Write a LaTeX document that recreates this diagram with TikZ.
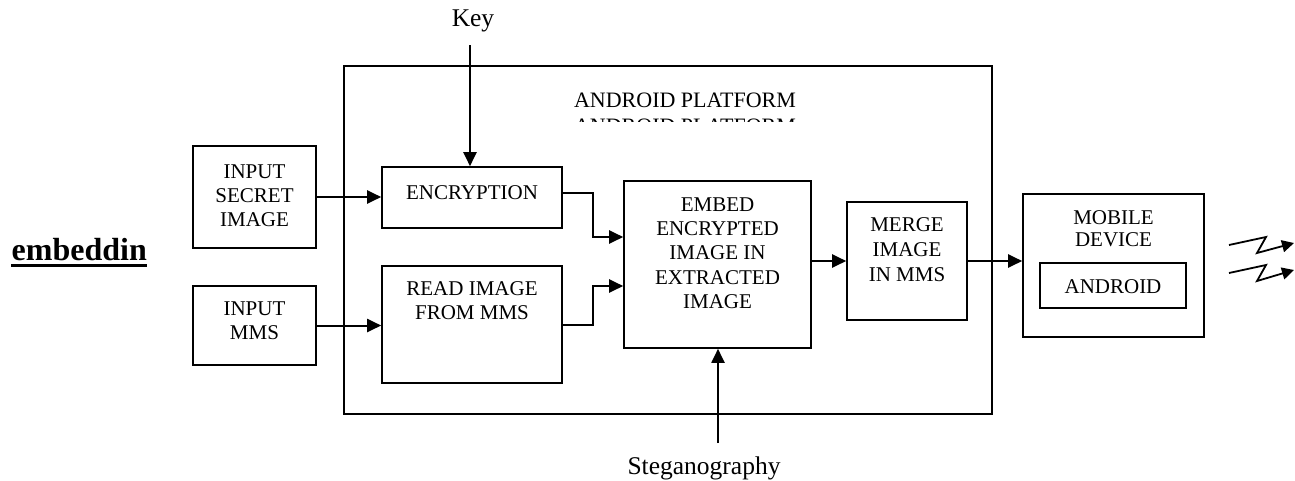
\documentclass[tikz,border=0pt]{standalone}
\usepackage{fontspec}
\setmainfont{Liberation Serif}
\usetikzlibrary{arrows.meta,calc}
\tikzset{
  box/.style={draw, line width=1.6pt, inner sep=0pt},
  lbl/.style={font=\fontsize{21}{24}\selectfont, align=center, inner sep=0pt, anchor=north},
  biglbl/.style={font=\fontsize{25.5}{30}\selectfont, inner sep=0pt},
  arr/.style={line width=2pt, -{Triangle[length=14pt,width=13pt]}},
  zig/.style={line width=1.8pt, -{Triangle[length=12pt,width=12pt]}},
}
\newcommand{\mybox}[5]{% name x1 y1 x2 y2
  \node[box, minimum width={(#4-#2)*1pt}, minimum height={(#5-#3)*1pt}] (#1) at ({(#2+#4)/2},{(#3+#5)/2}) {};}
\begin{document}
\begin{tikzpicture}[x=1pt,y=-1pt]
\useasboundingbox (0,0) rectangle (1295,480);
% boxes
\mybox{outer}{344}{66}{992}{414}
\mybox{secret}{193}{146}{316}{248}
\mybox{inmms}{193}{286}{316}{365}
\mybox{enc}{382}{167}{562}{228}
\mybox{read}{382}{266}{562}{383}
\mybox{embed}{624}{181}{811}{348}
\mybox{merge}{847}{202}{967}{320}
\mybox{mobile}{1023}{194}{1204}{337}
\mybox{android}{1040}{263}{1186}{308}
% labels
\node[lbl, font=\fontsize{22}{24}\selectfont] (plat) at (685,93) {ANDROID PLATFORM};
\begin{scope}
  \clip (540,110) rectangle (830,121.8);
  \node[lbl, font=\fontsize{22}{24}\selectfont] (plat2) at (685,118.3) {ANDROID PLATFORM};
\end{scope}
\node[lbl] (secretT) at ([yshift=-19pt]secret.north) {INPUT\\SECRET\\IMAGE};
\node[lbl] (inmmsT) at ([yshift=-16pt]inmms.north) {INPUT\\MMS};
\node[lbl] (encT) at ([yshift=-19pt]enc.north) {ENCRYPTION};
\node[lbl] (readT) at ([yshift=-16pt]read.north) {READ IMAGE\\FROM MMS};
\node[lbl, font=\fontsize{21}{24.3}\selectfont] (embedT) at ([yshift=-17pt]embed.north) {EMBED\\ENCRYPTED\\IMAGE IN\\EXTRACTED\\IMAGE};
\node[lbl, font=\fontsize{21}{25}\selectfont] (mergeT) at ([yshift=-16pt]merge.north) {MERGE\\IMAGE\\IN MMS};
\node[lbl, font=\fontsize{21}{22.5}\selectfont] (mobileT) at ([yshift=-17pt]mobile.north) {MOBILE\\DEVICE};
\node[lbl] (androidT) at ([yshift=-17pt]android.north) {ANDROID};
\node[biglbl, anchor=north] (key) at (473,10) {Key};
\node[biglbl, anchor=north] (steg) at (704,457) {Steganography};
\node[font=\fontsize{32}{36}\selectfont\bfseries, inner sep=0pt, anchor=base east] (emb) at (147,260) {embeddin};
\draw[line width=3.5pt] ([yshift=-5.5pt]emb.base west) -- ([yshift=-5.5pt]emb.base east);
% connectors
\coordinate (keytop) at (470,45);
\draw[arr] (keytop) -- (keytop |- enc.north);
\draw[arr] (secret.east) -- (secret.east -| enc.west);
\draw[arr] (inmms.east) -- (inmms.east -| read.west);
\draw[arr] ([yshift=4.5pt]enc.east) -- ++(30,0) |- ([yshift=27.5pt]embed.west);
\draw[arr] (read.east) -- ++(30,0) |- ([yshift=-21.5pt]embed.west);
\draw[arr] (merge.west -| embed.east) -- (merge.west);
\draw[arr] (merge.east) -- (merge.east -| mobile.west);
\coordinate (stegbot) at (718,443);
\draw[arr] (stegbot) -- (stegbot |- embed.south);
% wireless zigzags
\coordinate (z1a) at (1229,245); \coordinate (z1b) at (1266,237);
\coordinate (z1c) at (1257,253); \coordinate (z1d) at (1294,243);
\coordinate (z2a) at (1229,273); \coordinate (z2b) at (1266,265);
\coordinate (z2c) at (1257,281); \coordinate (z2d) at (1294,270);
\draw[zig] (z1a) -- (z1b) -- (z1c) -- (z1d);
\draw[zig] (z2a) -- (z2b) -- (z2c) -- (z2d);
\end{tikzpicture}
\end{document}
